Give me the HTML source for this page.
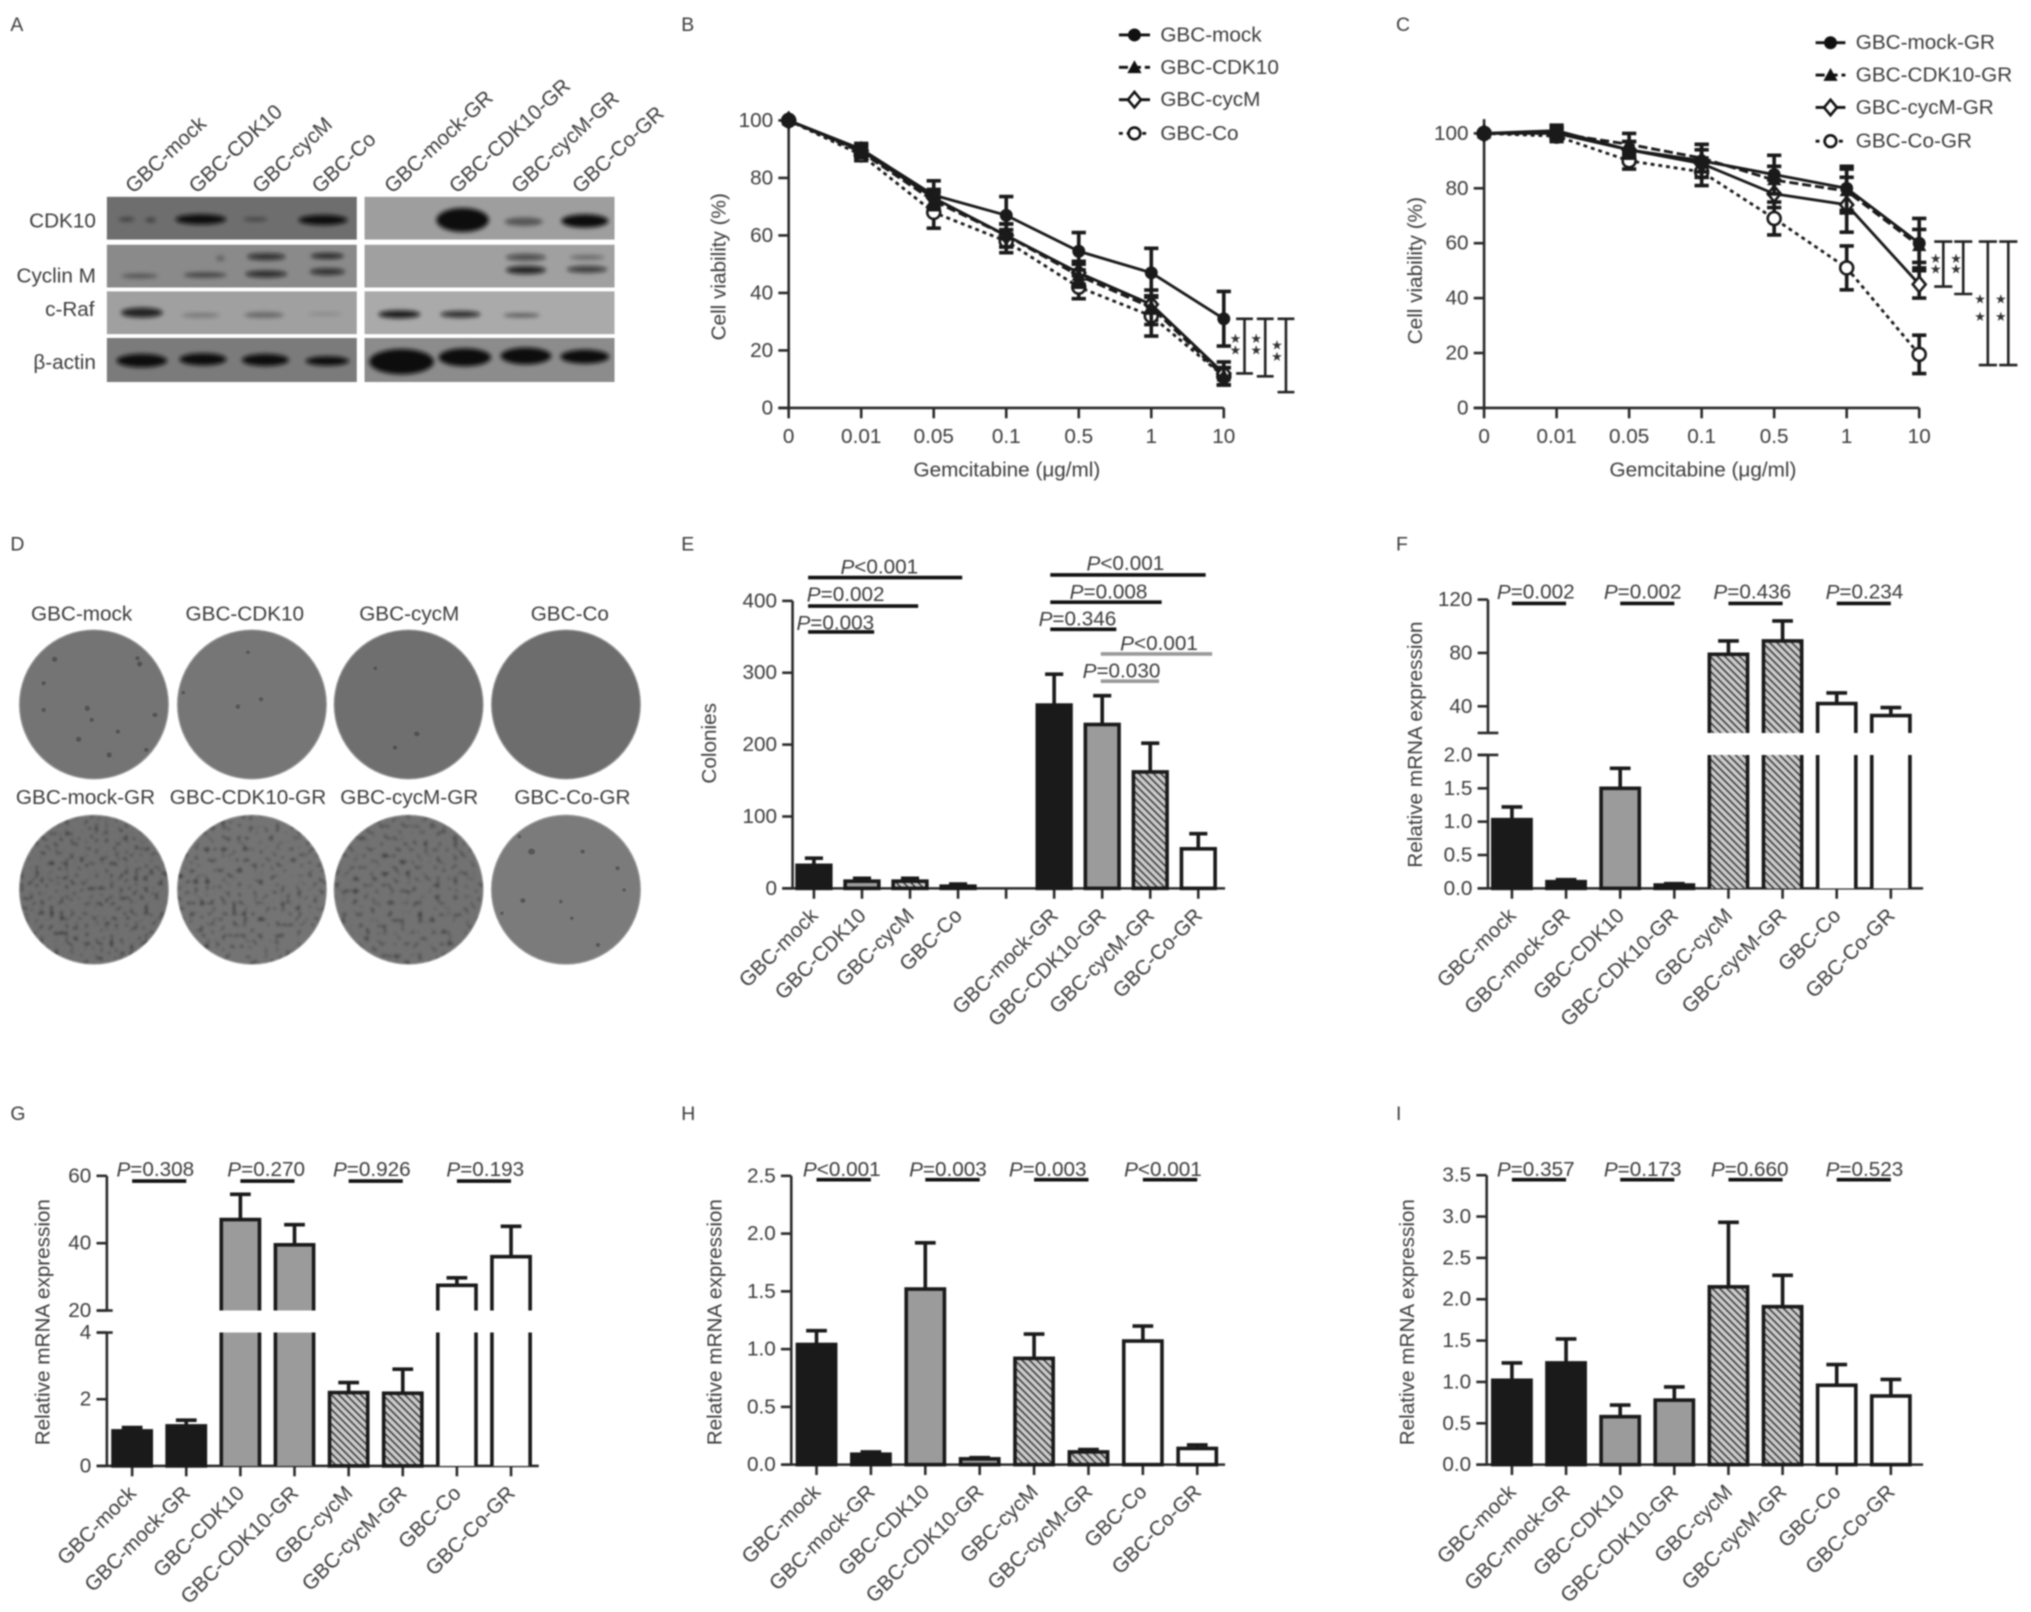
<!DOCTYPE html>
<html lang="en">
<head>
<meta charset="utf-8">
<title>Gemcitabine resistance figure, panels A to I</title>
<style>
html,body{margin:0;padding:0;background:#fff;width:2031px;height:1612px;overflow:hidden}
svg{display:block;filter:blur(.9px)}
text{font-family:"Liberation Sans",Arial,sans-serif;font-size:16px;fill:#3c3c3c}
.letter{font-size:15px}
</style>
</head>
<body>
<svg id="figure" xmlns="http://www.w3.org/2000/svg" width="2031" height="1612" viewBox="0 0 1568.3 1244.8">
<defs>
<pattern id="hatch" patternUnits="userSpaceOnUse" width="4" height="4" patternTransform="rotate(45)">
<rect width="4" height="4" fill="#cbcbcb"/><rect width="4" height="1.2" fill="#3a3a3a"/>
</pattern>
<filter id="bandBlur" x="-10%" y="-10%" width="120%" height="120%"><feGaussianBlur stdDeviation="1.6"/></filter>
<filter id="colonyA" x="0" y="0" width="100%" height="100%" color-interpolation-filters="sRGB"><feTurbulence type="fractalNoise" baseFrequency="0.26" numOctaves="1" seed="4"/><feColorMatrix type="matrix" values="0 0 0 0 .18 0 0 0 0 .18 0 0 0 0 .18 1 0 0 0 0"/><feComponentTransfer><feFuncA type="linear" slope="3" intercept="-1.62"/></feComponentTransfer><feGaussianBlur stdDeviation=".8"/></filter>
<filter id="colonyB" x="0" y="0" width="100%" height="100%" color-interpolation-filters="sRGB"><feTurbulence type="fractalNoise" baseFrequency="0.24" numOctaves="1" seed="11"/><feColorMatrix type="matrix" values="0 0 0 0 .18 0 0 0 0 .18 0 0 0 0 .18 1 0 0 0 0"/><feComponentTransfer><feFuncA type="linear" slope="3" intercept="-1.68"/></feComponentTransfer><feGaussianBlur stdDeviation=".8"/></filter>
<filter id="colonyC" x="0" y="0" width="100%" height="100%" color-interpolation-filters="sRGB"><feTurbulence type="fractalNoise" baseFrequency="0.22" numOctaves="1" seed="23"/><feColorMatrix type="matrix" values="0 0 0 0 .18 0 0 0 0 .18 0 0 0 0 .18 1 0 0 0 0"/><feComponentTransfer><feFuncA type="linear" slope="3" intercept="-1.7"/></feComponentTransfer><feGaussianBlur stdDeviation=".8"/></filter>
<clipPath id="plate5"><circle cx="72.5" cy="687" r="57.5"/></clipPath>
<clipPath id="plate6"><circle cx="194.5" cy="687" r="57.5"/></clipPath>
<clipPath id="plate7"><circle cx="315.5" cy="687" r="57.5"/></clipPath>
</defs>

<g>
<text class="letter" x="8" y="24">A</text>
<text class="letter" x="526" y="24">B</text>
<text class="letter" x="1078" y="24">C</text>
<text class="letter" x="8" y="425">D</text>
<text class="letter" x="526" y="425">E</text>
<text class="letter" x="1078" y="425">F</text>
<text class="letter" x="8" y="865">G</text>
<text class="letter" x="526" y="865">H</text>
<text class="letter" x="1078" y="865">I</text>
</g>

<g id="panel-a">
<g>
<text transform="translate(103,150) rotate(-43)">GBC-mock</text>
<text transform="translate(152,150) rotate(-43)">GBC-CDK10</text>
<text transform="translate(201,150) rotate(-43)">GBC-cycM</text>
<text transform="translate(247,150) rotate(-43)">GBC-Co</text>
<text transform="translate(303,150) rotate(-43)">GBC-mock-GR</text>
<text transform="translate(353,150) rotate(-43)">GBC-CDK10-GR</text>
<text transform="translate(401,150) rotate(-43)">GBC-cycM-GR</text>
<text transform="translate(448,150) rotate(-43)">GBC-Co-GR</text>
</g>
<g text-anchor="end" dominant-baseline="central">
<text x="74" y="170.5">CDK10</text>
<text x="74" y="213">Cyclin M</text>
<text x="73" y="239">c-Raf</text>
<text x="74" y="280" font-family="'Liberation Sans','DejaVu Sans',sans-serif">β-actin</text>
</g>
<g>
<rect x="82.5" y="152" width="193" height="33" fill="#6e6e6e"/>
<rect x="82.5" y="189" width="193" height="33" fill="#8a8a8a"/>
<rect x="82.5" y="225" width="193" height="33" fill="#a0a0a0"/>
<rect x="82.5" y="261" width="193" height="34" fill="#7b7b7b"/>
<rect x="281.5" y="152" width="193" height="33" fill="#9e9e9e"/>
<rect x="281.5" y="189" width="193" height="33" fill="#a0a0a0"/>
<rect x="281.5" y="225" width="193" height="33" fill="#aaaaaa"/>
<rect x="281.5" y="261" width="193" height="34" fill="#8c8c8c"/>
</g>
<g filter="url(#bandBlur)">
<g transform="scale(.337,.2574)" fill="#0c0c0c">
<ellipse cx="290" cy="658" rx="18" ry="6" opacity=".45"/><ellipse cx="345" cy="660" rx="12" ry="6" opacity=".5"/><ellipse cx="460" cy="658" rx="58" ry="15"/><ellipse cx="585" cy="658" rx="28" ry="6" opacity=".4"/><ellipse cx="740" cy="660" rx="56" ry="15"/>
<ellipse cx="1060" cy="660" rx="60" ry="36"/><ellipse cx="1200" cy="665" rx="44" ry="13" opacity=".45"/><ellipse cx="1340" cy="663" rx="54" ry="20"/>
<ellipse cx="320" cy="828" rx="42" ry="7" opacity=".4"/><ellipse cx="470" cy="825" rx="50" ry="8" opacity=".5"/><ellipse cx="505" cy="775" rx="10" ry="8" opacity=".3"/><ellipse cx="610" cy="770" rx="44" ry="10" opacity=".75"/><ellipse cx="610" cy="822" rx="48" ry="10" opacity=".78"/><ellipse cx="750" cy="768" rx="38" ry="8" opacity=".85"/><ellipse cx="750" cy="815" rx="40" ry="10" opacity=".75"/>
<ellipse cx="1205" cy="772" rx="46" ry="10" opacity=".6"/><ellipse cx="1205" cy="810" rx="46" ry="12" opacity=".85"/><ellipse cx="1345" cy="772" rx="40" ry="7" opacity=".35"/><ellipse cx="1345" cy="808" rx="46" ry="10" opacity=".7"/>
<ellipse cx="325" cy="938" rx="48" ry="15" opacity=".85"/><ellipse cx="460" cy="946" rx="44" ry="7" opacity=".25"/><ellipse cx="605" cy="945" rx="46" ry="9" opacity=".35"/><ellipse cx="745" cy="942" rx="40" ry="5" opacity=".15"/>
<ellipse cx="915" cy="943" rx="48" ry="12" opacity=".9"/><ellipse cx="1055" cy="943" rx="46" ry="10" opacity=".8"/><ellipse cx="1195" cy="946" rx="42" ry="6" opacity=".5"/>
<ellipse cx="325" cy="1082" rx="58" ry="20"/><ellipse cx="465" cy="1078" rx="54" ry="18"/><ellipse cx="608" cy="1080" rx="54" ry="18"/><ellipse cx="750" cy="1083" rx="50" ry="14"/>
<ellipse cx="920" cy="1085" rx="74" ry="38"/><ellipse cx="1065" cy="1072" rx="60" ry="27"/><ellipse cx="1205" cy="1068" rx="58" ry="25"/><ellipse cx="1340" cy="1070" rx="56" ry="21"/>
</g>
</g>
</g>

<g id="panel-d">
<g text-anchor="middle" dominant-baseline="central">
<text x="63" y="474">GBC-mock</text>
<text x="189" y="474">GBC-CDK10</text>
<text x="316" y="474">GBC-cycM</text>
<text x="440" y="474">GBC-Co</text>
<text x="66" y="616">GBC-mock-GR</text>
<text x="191.5" y="616">GBC-CDK10-GR</text>
<text x="316" y="616">GBC-cycM-GR</text>
<text x="442" y="616">GBC-Co-GR</text>
</g>
<g stroke="#a2a2a2" stroke-width="1">
<circle cx="72.5" cy="544" r="57.5" fill="#747474"/>
<circle cx="194.5" cy="544" r="57.5" fill="#767676"/>
<circle cx="315.5" cy="544" r="57.5" fill="#6f6f6f"/>
<circle cx="437" cy="544" r="57.5" fill="#6d6d6d"/>
<circle cx="72.5" cy="687" r="57.5" fill="#707070"/>
<circle cx="194.5" cy="687" r="57.5" fill="#747474"/>
<circle cx="315.5" cy="687" r="57.5" fill="#727272"/>
<circle cx="437" cy="687" r="57.5" fill="#7b7b7b"/>
</g>
<g>
<g clip-path="url(#plate5)"><rect x="15" y="629" width="115" height="116" filter="url(#colonyA)"/></g>
<g clip-path="url(#plate6)"><rect x="137" y="629" width="115" height="116" filter="url(#colonyB)"/></g>
<g clip-path="url(#plate7)"><rect x="258" y="629" width="115" height="116" filter="url(#colonyC)"/></g>
</g>
<g transform="translate(0,401.5) scale(.337,.2574)" fill="#333" opacity=".5">
<ellipse cx="125" cy="418" rx="6" ry="8"/><ellipse cx="320" cy="432" rx="6" ry="8"/><ellipse cx="100" cy="490" rx="5" ry="6"/><ellipse cx="200" cy="565" rx="6" ry="8"/><ellipse cx="210" cy="600" rx="5" ry="6"/><ellipse cx="270" cy="635" rx="5" ry="6"/><ellipse cx="180" cy="658" rx="6" ry="8"/><ellipse cx="250" cy="705" rx="6" ry="8"/><ellipse cx="335" cy="690" rx="5" ry="6"/><ellipse cx="355" cy="585" rx="6" ry="6"/><ellipse cx="100" cy="570" rx="5" ry="6"/><ellipse cx="315" cy="415" rx="5" ry="6"/>
<ellipse cx="545" cy="560" rx="5" ry="7"/><ellipse cx="598" cy="538" rx="5" ry="6"/><ellipse cx="568" cy="397" rx="4" ry="5"/><ellipse cx="420" cy="518" rx="4" ry="5"/>
<ellipse cx="955" cy="642" rx="6" ry="7"/><ellipse cx="905" cy="683" rx="5" ry="6"/><ellipse cx="860" cy="445" rx="4" ry="5"/>
<ellipse cx="1218" cy="995" rx="8" ry="9"/><ellipse cx="1335" cy="995" rx="5" ry="6"/><ellipse cx="1198" cy="1142" rx="6" ry="7"/><ellipse cx="1415" cy="1045" rx="5" ry="6"/><ellipse cx="1370" cy="1275" rx="5" ry="6"/><ellipse cx="1285" cy="1145" rx="4" ry="5"/><ellipse cx="1430" cy="1110" rx="4" ry="5"/><ellipse cx="1190" cy="950" rx="4" ry="5"/><ellipse cx="1310" cy="1195" rx="4" ry="5"/><ellipse cx="1150" cy="1180" rx="4" ry="5"/>
</g>
</g>

<g text-anchor="middle" dominant-baseline="central">
<text x="777.5" y="363">Gemcitabine (μg/ml)</text>
<text x="1315" y="363">Gemcitabine (μg/ml)</text>
<text transform="translate(555,206) rotate(-90)">Cell viability (%)</text>
<text transform="translate(1093,209) rotate(-90)">Cell viability (%)</text>
<text transform="translate(548,574) rotate(-90)">Colonies</text>
<text transform="translate(1093,575) rotate(-90)">Relative mRNA expression</text>
<text transform="translate(33,1021) rotate(-90)">Relative mRNA expression</text>
<text transform="translate(552,1021) rotate(-90)">Relative mRNA expression</text>
<text transform="translate(1087,1021) rotate(-90)">Relative mRNA expression</text>
</g>

<g id="legend-b" dominant-baseline="central" stroke-linecap="butt">
<g><path d="M864 27H888" stroke="#111" stroke-width="2.2"/><circle cx="876" cy="27" r="5" fill="#111"/><text x="896" y="27">GBC-mock</text></g>
<g><path d="M864 52H888" stroke="#111" stroke-width="2.2" stroke-dasharray="7 3"/><path d="M876 46.5l5.5 10h-11z" fill="#111"/><text x="896" y="52">GBC-CDK10</text></g>
<g><path d="M864 77H888" stroke="#111" stroke-width="2.2"/><path d="M876 71l5 6-5 6-5-6z" fill="#fff" stroke="#111" stroke-width="2"/><text x="896" y="77">GBC-cycM</text></g>
<g><path d="M864 103H888" stroke="#111" stroke-width="2.2" stroke-dasharray="3 3"/><circle cx="876" cy="103" r="4.5" fill="#fff" stroke="#111" stroke-width="2"/><text x="896" y="103">GBC-Co</text></g>
</g>
<g id="legend-c" dominant-baseline="central">
<g><path d="M1402 33H1425" stroke="#111" stroke-width="2.2"/><circle cx="1413.5" cy="33" r="5" fill="#111"/><text x="1433" y="33">GBC-mock-GR</text></g>
<g><path d="M1402 58H1425" stroke="#111" stroke-width="2.2" stroke-dasharray="7 3"/><path d="M1413.5 52.5l5.5 10h-11z" fill="#111"/><text x="1433" y="58">GBC-CDK10-GR</text></g>
<g><path d="M1402 83H1425" stroke="#111" stroke-width="2.2"/><path d="M1413.5 77l5 6-5 6-5-6z" fill="#fff" stroke="#111" stroke-width="2"/><text x="1433" y="83">GBC-cycM-GR</text></g>
<g><path d="M1402 109H1425" stroke="#111" stroke-width="2.2" stroke-dasharray="3 3"/><circle cx="1413.5" cy="109" r="4.5" fill="#fff" stroke="#111" stroke-width="2"/><text x="1433" y="109">GBC-Co-GR</text></g>
</g>

<g id="charts"></g>
</svg>

<script>
// ---- panel B data (cell viability, parental lines) ----
const doseLabels = ['0', '0.01', '0.05', '0.1', '0.5', '1', '10'];
const viabilityTicks = ['0', '20', '40', '60', '80', '100'];
const bMock = [100, 90, 74, 67, 54.5, 47, 31];
const bMockErr = [0, 2, 5, 6.5, 6.5, 8.5, 9.5];
const bCdk10 = [100, 89, 72, 60, 46, 35, 11];
const bCdk10Err = [0, 2, 3, 4, 4, 6, 3];
const bCycm = [100, 89.5, 73, 60, 47, 36, 12];
const bCycmErr = [0, 2, 3, 4, 4, 3, 4];
const bCo = [100, 88, 68, 58, 42, 32, 11];
const bCoErr = [0, 2, 5.5, 4, 4, 7, 3];
const bSigHigh = [31, 31, 31];
const bSigLow = [12, 11, 5.5];

// ---- panel C data (cell viability, resistant lines) ----
const cMock = [100, 101, 94, 90, 85, 80, 60];
const cMockErr = [0, 2, 3, 6, 7, 8, 9];
const cCdk10 = [100, 100, 96, 91, 83, 79, 59];
const cCdk10Err = [0, 2, 4, 5, 5, 8, 6];
const cCycm = [100, 100, 94, 89, 78, 74, 45];
const cCycmErr = [0, 2, 3, 5, 5, 10, 5];
const cCo = [100, 99, 90, 86, 69, 51, 19.5];
const cCoErr = [0, 2, 3, 5, 6, 8, 7];
const cSigHigh = [60.6, 60.6, 60.6, 60.6];
const cSigLow = [44.2, 41.5, 15.6, 15.6];

// ---- bar chart data ----
const pairedCategories = ['GBC-mock', 'GBC-mock-GR', 'GBC-CDK10', 'GBC-CDK10-GR', 'GBC-cycM', 'GBC-cycM-GR', 'GBC-Co', 'GBC-Co-GR'];
const eCategories = ['GBC-mock', 'GBC-CDK10', 'GBC-cycM', 'GBC-Co', '', 'GBC-mock-GR', 'GBC-CDK10-GR', 'GBC-cycM-GR', 'GBC-Co-GR'];
const eMeans = [32, 10, 10, 3, null, 255, 228, 162, 55];
const eTops = [42, 14, 14, 6, null, 298, 268, 202, 76];
const eTicks = ['0', '100', '200', '300', '400'];

const fMeans = [1.03, 0.1, 1.5, 0.05, 79, 89, 42, 33];
const fTops = [1.22, 0.13, 1.8, 0.07, 89, 104, 50, 39];
const fLowTicks = ['0.0', '0.5', '1.0', '1.5', '2.0'];
const fHighTicks = ['40', '80', '120'];
const fP = ['P=0.002', 'P=0.002', 'P=0.436', 'P=0.234'];

const gMeans = [1.05, 1.2, 47, 39.5, 2.2, 2.18, 27.5, 36];
const gTops = [1.15, 1.37, 54.5, 45.5, 2.5, 2.9, 29.7, 45];
const gLowTicks = ['0', '2', '4'];
const gHighTicks = ['20', '40', '60'];
const gP = ['P=0.308', 'P=0.270', 'P=0.926', 'P=0.193'];

const hMeans = [1.04, 0.09, 1.52, 0.05, 0.92, 0.11, 1.07, 0.14];
const hTops = [1.16, 0.11, 1.92, 0.06, 1.13, 0.13, 1.2, 0.17];
const hTicks = ['0.0', '0.5', '1.0', '1.5', '2.0', '2.5'];
const hP = ['P<0.001', 'P=0.003', 'P=0.003', 'P<0.001'];

const iMeans = [1.02, 1.23, 0.58, 0.78, 2.15, 1.91, 0.96, 0.83];
const iTops = [1.23, 1.52, 0.72, 0.94, 2.93, 2.29, 1.21, 1.03];
const iTicks = ['0.0', '0.5', '1.0', '1.5', '2.0', '2.5', '3.0', '3.5'];
const iP = ['P=0.357', 'P=0.173', 'P=0.660', 'P=0.523'];

const NS = 'http://www.w3.org/2000/svg';
const INK = '#1a1a1a';
const root = document.getElementById('charts');

function make(tag, attrs, parent) {
  const el = document.createElementNS(NS, tag);
  for (const k in attrs) el.setAttribute(k, attrs[k]);
  parent.appendChild(el);
  return el;
}

function panelGroup(name) {
  const g = make('g', {}, root);
  
  
  return g;
}

function linearScale(minV, maxV, yMin, yMax) {
  return v => yMin - (v - minV) / (maxV - minV) * (yMin - yMax);
}

function drawAxisLine(g, d, name) {
  const p = make('path', { d: d, fill: 'none', stroke: '#2a2a2a', 'stroke-width': 2 }, g);
  
  
}

function drawYTicks(g, labels, scale, axisX) {
  labels.forEach(label => {
    const y = scale(Number(label));
    drawAxisLine(g, 'M' + (axisX - 8) + ' ' + y + 'H' + axisX, 'y-tick');
    const t = make('text', { x: axisX - 12, y: y, 'text-anchor': 'end', 'dominant-baseline': 'central' }, g);
    
    
    t.textContent = label;
  });
}

function drawRotatedLabel(g, label, x, y) {
  const t = make('text', { transform: 'translate(' + x + ',' + y + ') rotate(-45)', 'text-anchor': 'end' }, g);
  
  
  t.textContent = label;
}

function barFill(label) {
  if (label.includes('mock')) return '#1a1a1a';
  if (label.includes('CDK10')) return '#9b9b9b';
  if (label.includes('cycM')) return 'url(#hatch)';
  return '#fff';
}

function drawPValue(g, label, x1, x2, lineY, textX, textY, color) {
  const line = make('path', { d: 'M' + x1 + ' ' + lineY + 'H' + x2, stroke: color, 'stroke-width': 2.8 }, g);
  
  
  const t = make('text', { x: textX, y: textY, 'text-anchor': 'middle', 'dominant-baseline': 'central' }, g);
  
  
  const italic = make('tspan', { 'font-style': 'italic' }, t);
  italic.textContent = label.charAt(0);
  t.appendChild(document.createTextNode(label.slice(1)));
}

// scaleLow covers the lower segment; broken charts also pass scaleHigh and the segment limits.
function drawBars(g, o) {
  const half = o.barWidth / 2;
  o.categories.forEach((label, i) => {
    const cx = o.x0 + i * o.dx;
    drawAxisLine(g, 'M' + cx + ' ' + o.baseY + 'V' + (o.baseY + 8), 'x-tick');
    if (label) drawRotatedLabel(g, label, cx + 4, o.baseY + 22);
    const mean = o.means[i];
    if (mean === null) return;
    const yOf = v => (o.scaleHigh && v > o.lowMax) ? o.scaleHigh(v) : o.scaleLow(v);
    const bar = make('g', {}, g);
    
    
    const l = cx - half, r = cx + half, top = yOf(mean), topErr = yOf(o.tops[i]);
    const fill = barFill(label);
    make('path', { d: 'M' + cx + ' ' + top + 'V' + topErr + 'M' + (cx - o.cap) + ' ' + topErr + 'H' + (cx + o.cap), stroke: INK, 'stroke-width': 2.8, fill: 'none' }, bar);
    if (o.scaleHigh && mean > o.lowMax) {
      const lowTop = o.scaleLow(o.lowMax), highBase = o.scaleHigh(o.highMin);
      make('rect', { x: l, y: lowTop, width: o.barWidth, height: o.baseY - lowTop, fill: fill }, bar);
      make('path', { d: 'M' + l + ' ' + o.baseY + 'V' + lowTop + 'M' + r + ' ' + lowTop + 'V' + o.baseY, stroke: INK, 'stroke-width': 2.8, fill: 'none' }, bar);
      make('path', { d: 'M' + l + ' ' + highBase + 'V' + top + 'H' + r + 'V' + highBase, stroke: INK, 'stroke-width': 2.8, fill: fill }, bar);
    } else {
      make('rect', { x: l, y: top, width: o.barWidth, height: o.baseY - top, stroke: INK, 'stroke-width': 2.8, fill: fill }, bar);
    }
  });
}

function drawSeries(g, o) {
  const xOf = i => o.x0 + i * o.dx;
  const group = make('g', {}, g);
  
  
  const points = o.values.map((v, i) => xOf(i) + ',' + o.scale(v)).join(' ');
  const line = make('polyline', { points: points, fill: 'none', stroke: INK, 'stroke-width': 2.2, 'stroke-dasharray': o.dash }, group);
  
  
  o.values.forEach((v, i) => {
    const x = xOf(i), y = o.scale(v), e = o.errors[i];
    if (e > 0) {
      const yh = o.scale(v + e), yl = o.scale(v - e);
      const err = make('path', { d: 'M' + x + ' ' + yh + 'V' + yl + 'M' + (x - 5.5) + ' ' + yh + 'H' + (x + 5.5) + 'M' + (x - 5.5) + ' ' + yl + 'H' + (x + 5.5), stroke: INK, 'stroke-width': 2.8, fill: 'none' }, group);
      
      
    }
    let m;
    if (o.marker === 'circle') m = make('circle', { cx: x, cy: y, r: 5, fill: INK }, group);
    if (o.marker === 'triangle') m = make('path', { d: 'M' + x + ' ' + (y - 6) + 'l5.5 10h-11z', fill: INK }, group);
    if (o.marker === 'diamond') m = make('path', { d: 'M' + x + ' ' + (y - 6) + 'l5 6-5 6-5-6z', fill: '#fff', stroke: INK, 'stroke-width': 2 }, group);
    if (o.marker === 'open') m = make('circle', { cx: x, cy: y, r: 5, fill: '#fff', stroke: INK, 'stroke-width': 2 }, group);
    
    
  });
}

function drawBracket(g, x, scale, high, low, cap, starX, starY1, starY2) {
  const yh = scale(high), yl = scale(low);
  const b = make('path', { d: 'M' + x + ' ' + yh + 'V' + yl + 'M' + (x - cap) + ' ' + yh + 'H' + (x + cap) + 'M' + (x - cap) + ' ' + yl + 'H' + (x + cap), stroke: '#222', 'stroke-width': 2, fill: 'none' }, g);
  
  
  [starY1, starY2].forEach(starY => {
    const s = make('text', { x: starX, y: starY, 'text-anchor': 'middle', 'dominant-baseline': 'central', style: "font-family:'DejaVu Sans',sans-serif;font-size:10px;fill:#333" }, g);
    
    
    s.textContent = '★';
  });
}

function drawDoseAxis(g, axisX, axisTop, baseY, dx, scale) {
  drawAxisLine(g, 'M' + axisX + ' ' + axisTop + 'V' + baseY, 'y-axis-line');
  drawAxisLine(g, 'M' + (axisX - 8) + ' ' + baseY + 'H' + (axisX + 6 * dx), 'x-axis-line');
  drawYTicks(g, viabilityTicks, scale, axisX);
  doseLabels.forEach((label, i) => {
    const x = axisX + i * dx;
    drawAxisLine(g, 'M' + x + ' ' + baseY + 'V' + (baseY + 8), 'x-tick');
    const t = make('text', { x: x, y: baseY + 22, 'text-anchor': 'middle', 'dominant-baseline': 'central' }, g);
    
    
    t.textContent = label;
  });
}

// Panel B
(function () {
  const g = panelGroup('panel-b-line-chart');
  const scale = linearScale(0, 100, 315, 93);
  drawDoseAxis(g, 609, 93, 315, 56, scale);
  const base = { x0: 609, dx: 56, scale: scale };
  drawSeries(g, Object.assign({ name: 'gbc-co', values: bCo, errors: bCoErr, marker: 'open', dash: '3 3' }, base));
  drawSeries(g, Object.assign({ name: 'gbc-cycm', values: bCycm, errors: bCycmErr, marker: 'diamond', dash: 'none' }, base));
  drawSeries(g, Object.assign({ name: 'gbc-cdk10', values: bCdk10, errors: bCdk10Err, marker: 'triangle', dash: '7 3' }, base));
  drawSeries(g, Object.assign({ name: 'gbc-mock', values: bMock, errors: bMockErr, marker: 'circle', dash: 'none' }, base));
  drawBracket(g, 961, scale, bSigHigh[0], bSigLow[0], 6.5, 954, 262, 271);
  drawBracket(g, 977, scale, bSigHigh[1], bSigLow[1], 6.5, 970, 262, 271);
  drawBracket(g, 993, scale, bSigHigh[2], bSigLow[2], 6.5, 986, 267, 276);
})();

// Panel C
(function () {
  const g = panelGroup('panel-c-line-chart');
  const scale = linearScale(0, 100, 315, 103);
  drawDoseAxis(g, 1146, 92, 315, 56, scale);
  const base = { x0: 1146, dx: 56, scale: scale };
  drawSeries(g, Object.assign({ name: 'gbc-co-gr', values: cCo, errors: cCoErr, marker: 'open', dash: '3 3' }, base));
  drawSeries(g, Object.assign({ name: 'gbc-cycm-gr', values: cCycm, errors: cCycmErr, marker: 'diamond', dash: 'none' }, base));
  drawSeries(g, Object.assign({ name: 'gbc-cdk10-gr', values: cCdk10, errors: cCdk10Err, marker: 'triangle', dash: '7 3' }, base));
  drawSeries(g, Object.assign({ name: 'gbc-mock-gr', values: cMock, errors: cMockErr, marker: 'circle', dash: 'none' }, base));
  drawBracket(g, 1500.6, scale, cSigHigh[0], cSigLow[0], 7, 1494.7, 200.2, 208.6);
  drawBracket(g, 1516, scale, cSigHigh[1], cSigLow[1], 7, 1510.5, 200.2, 208.6);
  drawBracket(g, 1535, scale, cSigHigh[2], cSigLow[2], 7, 1529, 231.7, 245);
  drawBracket(g, 1550.8, scale, cSigHigh[3], cSigLow[3], 7, 1545, 231.7, 245);
})();

// Panel E
(function () {
  const g = panelGroup('panel-e-bar-chart');
  const scale = linearScale(0, 400, 686, 464);
  drawAxisLine(g, 'M612 464V686', 'y-axis-line');
  drawAxisLine(g, 'M604 686H946', 'x-axis-line');
  drawYTicks(g, eTicks, scale, 612);
  drawBars(g, { categories: eCategories, means: eMeans, tops: eTops, x0: 628.5, dx: 37.1, baseY: 686, barWidth: 26, cap: 7, scaleLow: scale });
  drawPValue(g, 'P<0.001', 624, 743, 446, 679, 438, '#111');
  drawPValue(g, 'P=0.002', 624, 709, 468, 653, 459, '#111');
  drawPValue(g, 'P=0.003', 624, 675, 488, 645, 481, '#111');
  drawPValue(g, 'P<0.001', 811, 931, 444, 869, 435, '#111');
  drawPValue(g, 'P=0.008', 811, 897, 465, 856, 457, '#111');
  drawPValue(g, 'P=0.346', 811, 862, 486, 832, 478, '#111');
  drawPValue(g, 'P<0.001', 850, 936, 505, 895, 497, '#999');
  drawPValue(g, 'P=0.030', 850, 895, 526, 866, 518, '#999');
})();

function drawPairP(g, labels, x0, dx, lineY, textY, textOffsets) {
  labels.forEach((label, i) => {
    const a = x0 + (2 * i) * dx, b = a + dx;
    drawPValue(g, label, a, b, lineY, (a + b) / 2 + textOffsets[i], textY, '#111');
  });
}

// Panel F (broken axis)
(function () {
  const g = panelGroup('panel-f-bar-chart');
  const scaleLow = linearScale(0, 2, 686, 583);
  const scaleHigh = linearScale(20, 120, 566, 463);
  drawAxisLine(g, 'M1149 583V686', 'y-axis-lower');
  drawAxisLine(g, 'M1149 463V566', 'y-axis-upper');
  drawAxisLine(g, 'M1141 686H1485', 'x-axis-line');
  drawAxisLine(g, 'M1141 566H1157', 'axis-break-lower');
  drawAxisLine(g, 'M1141 583H1157', 'axis-break-upper');
  drawYTicks(g, fLowTicks, scaleLow, 1149);
  drawYTicks(g, fHighTicks, scaleHigh, 1149);
  drawBars(g, { categories: pairedCategories, means: fMeans, tops: fTops, x0: 1167.5, dx: 41.8, baseY: 686, barWidth: 29.5, cap: 8, scaleLow: scaleLow, scaleHigh: scaleHigh, lowMax: 2, highMin: 20 });
  drawPairP(g, fP, 1167.5, 41.8, 466, 457, [-2.5, -3.5, -2.5, 0.5]);
})();

// Panel G (broken axis)
(function () {
  const g = panelGroup('panel-g-bar-chart');
  const scaleLow = linearScale(0, 4, 1132, 1029);
  const scaleHigh = linearScale(20, 60, 1012, 908);
  drawAxisLine(g, 'M82.5 1029V1132', 'y-axis-lower');
  drawAxisLine(g, 'M82.5 908V1012', 'y-axis-upper');
  drawAxisLine(g, 'M75 1132H416', 'x-axis-line');
  drawAxisLine(g, 'M75 1012H87', 'axis-break-lower');
  drawAxisLine(g, 'M75 1029H87', 'axis-break-upper');
  drawYTicks(g, gLowTicks, scaleLow, 82.5);
  drawYTicks(g, gHighTicks, scaleHigh, 82.5);
  drawBars(g, { categories: pairedCategories, means: gMeans, tops: gTops, x0: 102, dx: 41.8, baseY: 1132, barWidth: 29.5, cap: 8, scaleLow: scaleLow, scaleHigh: scaleHigh, lowMax: 4, highMin: 20 });
  drawPairP(g, gP, 102, 41.8, 912, 903, [-3, -1, -3, 1]);
})();

// Panel H
(function () {
  const g = panelGroup('panel-h-bar-chart');
  const scale = linearScale(0, 2.5, 1131, 908);
  drawAxisLine(g, 'M611 908V1131', 'y-axis-line');
  drawAxisLine(g, 'M604 1131H946', 'x-axis-line');
  drawYTicks(g, hTicks, scale, 611);
  drawBars(g, { categories: pairedCategories, means: hMeans, tops: hTops, x0: 630.5, dx: 42, baseY: 1131, barWidth: 29.5, cap: 8, scaleLow: scale });
  drawPairP(g, hP, 630.5, 42, 911, 903, [-1.5, -3.5, -10.5, -5.5]);
})();

// Panel I
(function () {
  const g = panelGroup('panel-i-bar-chart');
  const scale = linearScale(0, 3.5, 1131, 907.5);
  drawAxisLine(g, 'M1148 907.5V1131', 'y-axis-line');
  drawAxisLine(g, 'M1140 1131H1485', 'x-axis-line');
  drawYTicks(g, iTicks, scale, 1148);
  drawBars(g, { categories: pairedCategories, means: iMeans, tops: iTops, x0: 1167.5, dx: 41.8, baseY: 1131, barWidth: 29.5, cap: 8, scaleLow: scale });
  drawPairP(g, iP, 1167.5, 41.8, 911, 903, [-2.5, -3.5, -4.5, 0.5]);
})();
</script>
</body>
</html>
